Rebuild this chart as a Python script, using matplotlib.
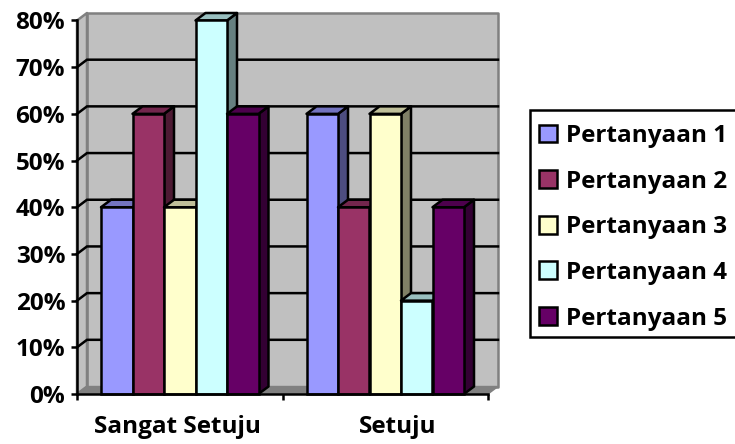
import matplotlib
matplotlib.use("Agg")
import matplotlib.pyplot as plt
from matplotlib.patches import Polygon, Patch, Rectangle
from matplotlib.ticker import PercentFormatter

categories = ["Sangat Setuju", "Setuju"]
series_names = ["Pertanyaan 1", "Pertanyaan 2", "Pertanyaan 3", "Pertanyaan 4", "Pertanyaan 5"]
pertanyaan_1 = [40, 60]
pertanyaan_2 = [60, 40]
pertanyaan_3 = [40, 60]
pertanyaan_4 = [80, 20]
pertanyaan_5 = [60, 40]
all_series = [pertanyaan_1, pertanyaan_2, pertanyaan_3, pertanyaan_4, pertanyaan_5]
colors = ["#9999FF", "#993366", "#FFFFCC", "#CCFFFF", "#660066"]
y_ticks = [0, 10, 20, 30, 40, 50, 60, 70, 80]

W, H = 735, 444
plt.rcParams["font.family"] = "Open Sans"
plt.rcParams["font.weight"] = "bold"
fig = plt.figure(figsize=(W / 100, H / 100), dpi=100)
L, R, B, T = 77, 488, 394, 20.5
ax = fig.add_axes([L / W, 1 - B / H, (R - L) / W, (B - T) / H])
ax.set_xlim(0, 2)
ax.set_ylim(0, 80)
ax.patch.set_visible(False)

DX = 10.0 / ((R - L) / 2)
DY = 7.5 / ((B - T) / 80)
BW = 31.5 / ((R - L) / 2)
LW = 1.8


def shade(c, f):
    r, g, b = matplotlib.colors.to_rgb(c)
    return (r * f, g * f, b * f)


def poly(pts, fc, ec="black", lw=LW, z=1):
    ax.add_patch(Polygon(pts, closed=True, fc=fc, ec=ec, lw=lw, zorder=z,
                         clip_on=False, joinstyle="round"))


top = y_ticks[-1]
n_cat = len(categories)
# walls and floor
poly([(DX, DY), (n_cat + DX, DY), (n_cat + DX, top + DY), (DX, top + DY)], "#C0C0C0", "#808080", 1.8, 1)
poly([(0, 0), (DX, DY), (DX, top + DY), (0, top)], "#C0C0C0", "#808080", 1.8, 1)
poly([(0, 0), (n_cat, 0), (n_cat + DX, DY), (DX, DY)], "#808080", "#808080", 1.0, 1)

# gridlines (the top edge of the wall stays grey)
for t in y_ticks[1:-1]:
    ax.plot([0, DX, n_cat + DX], [t, t + DY, t + DY], color="black", lw=LW, zorder=2,
            clip_on=False, solid_joinstyle="miter")

# bars, painted left to right
z = 3
for c in range(n_cat):
    start = c + 0.5 - BW * len(all_series) / 2
    for s, vals in enumerate(all_series):
        x0 = start + s * BW
        x1 = x0 + BW
        v = vals[c]
        col = colors[s]
        poly([(x1, 0), (x1 + DX, DY), (x1 + DX, v + DY), (x1, v)], shade(col, 0.5), z=z)
        poly([(x0, v), (x1, v), (x1 + DX, v + DY), (x0 + DX, v + DY)], shade(col, 0.75), z=z)
        ax.bar(x0, v, width=BW, align="edge", color=col, edgecolor="black", lw=LW, zorder=z,
               clip_on=False)
        z += 1

for side in ("top", "right"):
    ax.spines[side].set_visible(False)
for side in ("left", "bottom"):
    ax.spines[side].set_linewidth(LW)
    ax.spines[side].set_zorder(200)
ax.set_yticks(y_ticks)
ax.yaxis.set_major_formatter(PercentFormatter(100, decimals=0))
ax.set_xticks(range(n_cat + 1))
ax.set_xticklabels([])
ax.tick_params(axis="both", length=4, width=LW, color="black")
ax.tick_params(axis="y", labelsize=17.5, pad=4.5)

label_shift = [-2, 12]
for c, name in enumerate(categories):
    ax.annotate(name, xy=(c + 0.5, 0), xycoords=("data", "axes fraction"),
                xytext=(label_shift[c] * 0.72, -33 * 0.72), textcoords="offset points",
                ha="center", va="center", fontsize=17.5)

# legend frame, with the entries placed inside it
fig.add_artist(Rectangle((529.5 / W, 1 - 337 / H), 206 / W, 227 / H, transform=fig.transFigure,
                         fc="white", ec="black", lw=LW, clip_on=False))
handles = [Patch(fc=c, ec="black", lw=LW) for c in colors]
leg = fig.legend(handles, series_names, loc="lower left",
                 bbox_to_anchor=(539 / W, 1 - 330.5 / H), frameon=False,
                 borderaxespad=0, borderpad=0, fontsize=17.5,
                 handlelength=0.76, handleheight=0.76,
                 handletextpad=0.35, labelspacing=0.89)

fig.savefig("out.png", dpi=100)
